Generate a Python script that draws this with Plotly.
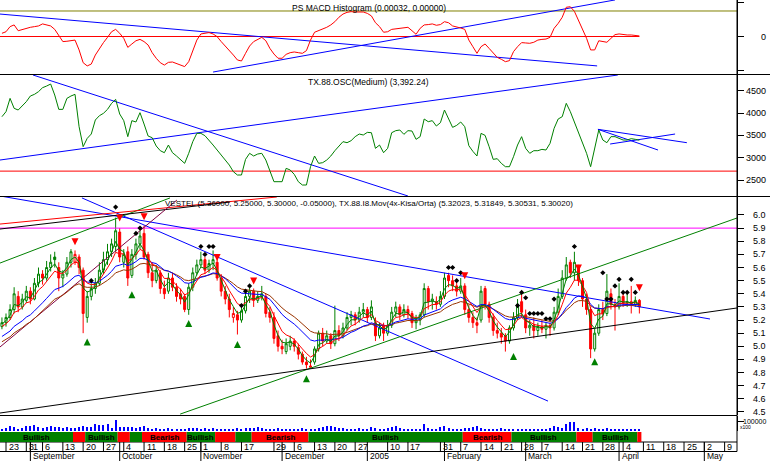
import plotly.graph_objects as go

# ---------------- data ----------------
# daily bars, index 0 = 20 Aug 2004 ... 157 = 8 Apr 2005
opens = [5.15, 5.18, 5.22, 5.28, 5.38, 5.30, 5.35, 5.42, 5.36, 5.48,
         5.55, 5.52, 5.60, 5.68, 5.60, 5.52, 5.55, 5.64, 5.64, 5.68,
         5.58, 5.22, 5.38, 5.44, 5.48, 5.58, 5.66, 5.72, 5.76, 5.87,
         5.64, 5.72, 5.54, 5.70, 5.78, 5.86, 5.70, 5.56, 5.50, 5.56,
         5.44, 5.42, 5.52, 5.45, 5.40, 5.38, 5.28, 5.45, 5.56, 5.62,
         5.66, 5.58, 5.63, 5.64, 5.52, 5.42, 5.36, 5.22, 5.24, 5.20,
         5.27, 5.38, 5.42, 5.35, 5.38, 5.38, 5.26, 5.22, 5.08, 5.00,
         4.96, 5.00, 5.04, 4.99, 4.94, 4.88, 4.84, 4.88, 4.98, 5.10,
         5.04, 5.08, 5.02, 5.12, 5.08, 5.14, 5.22, 5.24, 5.20, 5.26,
         5.28, 5.22, 5.18, 5.08, 5.16, 5.10, 5.16, 5.26, 5.30, 5.24,
         5.28, 5.25, 5.18, 5.20, 5.24, 5.44, 5.34, 5.34, 5.32, 5.38,
         5.54, 5.50, 5.46, 5.42, 5.46, 5.28, 5.22, 5.18, 5.20, 5.44,
         5.32, 5.22, 5.12, 5.10, 5.08, 5.04, 5.14, 5.22, 5.34, 5.24,
         5.14, 5.16, 5.12, 5.15, 5.13, 5.16, 5.14, 5.26, 5.38, 5.52,
         5.64, 5.56, 5.60, 5.50, 5.36, 5.28, 4.98, 5.10, 5.28, 5.25,
         5.40, 5.32, 5.30, 5.38, 5.33, 5.34, 5.32, 5.35]
highs = [5.22, 5.25, 5.32, 5.45, 5.42, 5.40, 5.46, 5.45, 5.52, 5.60,
         5.58, 5.65, 5.70, 5.72, 5.64, 5.58, 5.68, 5.74, 5.73, 5.70,
         5.60, 5.42, 5.48, 5.52, 5.64, 5.72, 5.78, 5.82, 5.98, 5.90,
         5.74, 5.76, 5.74, 5.82, 5.88, 5.92, 5.72, 5.64, 5.62, 5.58,
         5.50, 5.56, 5.56, 5.48, 5.44, 5.40, 5.48, 5.60, 5.66, 5.72,
         5.68, 5.66, 5.73, 5.68, 5.55, 5.46, 5.40, 5.30, 5.27, 5.30,
         5.42, 5.46, 5.44, 5.42, 5.46, 5.40, 5.30, 5.26, 5.12, 5.05,
         5.06, 5.08, 5.06, 5.02, 4.96, 4.92, 4.90, 5.00, 5.12, 5.14,
         5.12, 5.10, 5.31, 5.16, 5.18, 5.26, 5.27, 5.26, 5.30, 5.33,
         5.30, 5.35, 5.22, 5.18, 5.18, 5.20, 5.30, 5.34, 5.32, 5.32,
         5.31, 5.27, 5.24, 5.26, 5.48, 5.46, 5.40, 5.38, 5.42, 5.56,
         5.56, 5.54, 5.50, 5.52, 5.48, 5.32, 5.26, 5.22, 5.46, 5.46,
         5.34, 5.25, 5.18, 5.14, 5.10, 5.16, 5.26, 5.36, 5.40, 5.28,
         5.20, 5.22, 5.18, 5.20, 5.18, 5.18, 5.30, 5.44, 5.58, 5.68,
         5.66, 5.72, 5.62, 5.52, 5.40, 5.30, 5.14, 5.32, 5.34, 5.55,
         5.44, 5.36, 5.48, 5.40, 5.40, 5.46, 5.38, 5.36]
lows = [5.13, 5.15, 5.20, 5.25, 5.26, 5.28, 5.33, 5.32, 5.35, 5.45,
        5.47, 5.50, 5.57, 5.60, 5.42, 5.45, 5.53, 5.60, 5.62, 5.55,
        5.10, 5.18, 5.35, 5.40, 5.46, 5.55, 5.62, 5.68, 5.72, 5.64,
        5.60, 5.46, 5.52, 5.66, 5.74, 5.66, 5.52, 5.45, 5.48, 5.40,
        5.36, 5.40, 5.42, 5.34, 5.32, 5.26, 5.24, 5.42, 5.54, 5.60,
        5.55, 5.56, 5.58, 5.50, 5.38, 5.32, 5.22, 5.18, 5.09, 5.18,
        5.25, 5.33, 5.30, 5.33, 5.35, 5.22, 5.18, 5.02, 4.96, 4.94,
        4.94, 4.97, 4.96, 4.90, 4.86, 4.83, 4.84, 4.86, 4.96, 5.00,
        5.02, 4.98, 5.00, 5.04, 5.06, 5.12, 5.16, 5.16, 5.18, 5.22,
        5.18, 5.20, 5.04, 5.06, 5.04, 5.08, 5.14, 5.22, 5.20, 5.22,
        5.21, 5.14, 5.13, 5.16, 5.22, 5.28, 5.28, 5.28, 5.30, 5.36,
        5.45, 5.42, 5.38, 5.40, 5.24, 5.18, 5.14, 5.10, 5.18, 5.28,
        5.18, 5.08, 5.06, 5.02, 4.96, 5.02, 5.12, 5.20, 5.22, 5.10,
        5.08, 5.06, 5.08, 5.10, 5.06, 5.08, 5.12, 5.24, 5.36, 5.50,
        5.52, 5.50, 5.46, 5.30, 5.24, 4.91, 4.96, 5.08, 5.20, 5.23,
        5.28, 5.12, 5.28, 5.30, 5.30, 5.25, 5.30, 5.25]
closes = [5.18, 5.22, 5.28, 5.40, 5.30, 5.36, 5.42, 5.36, 5.48, 5.55,
          5.52, 5.60, 5.64, 5.66, 5.52, 5.55, 5.64, 5.72, 5.70, 5.60,
          5.25, 5.38, 5.44, 5.48, 5.58, 5.66, 5.72, 5.78, 5.88, 5.68,
          5.70, 5.52, 5.70, 5.78, 5.84, 5.68, 5.56, 5.50, 5.58, 5.44,
          5.40, 5.52, 5.45, 5.38, 5.36, 5.28, 5.45, 5.56, 5.62, 5.66,
          5.58, 5.63, 5.66, 5.52, 5.42, 5.36, 5.28, 5.25, 5.20, 5.27,
          5.38, 5.42, 5.35, 5.38, 5.40, 5.25, 5.22, 5.06, 5.00, 4.98,
          5.02, 5.04, 5.00, 4.94, 4.88, 4.86, 4.85, 4.98, 5.10, 5.04,
          5.08, 5.02, 5.12, 5.08, 5.14, 5.22, 5.24, 5.20, 5.26, 5.28,
          5.22, 5.30, 5.08, 5.14, 5.10, 5.16, 5.26, 5.30, 5.24, 5.28,
          5.25, 5.18, 5.20, 5.24, 5.44, 5.34, 5.36, 5.32, 5.38, 5.52,
          5.50, 5.46, 5.42, 5.46, 5.28, 5.22, 5.18, 5.16, 5.42, 5.32,
          5.22, 5.12, 5.10, 5.07, 5.04, 5.14, 5.22, 5.32, 5.26, 5.14,
          5.16, 5.12, 5.15, 5.13, 5.16, 5.14, 5.26, 5.38, 5.52, 5.62,
          5.56, 5.64, 5.50, 5.36, 5.28, 4.98, 5.10, 5.28, 5.25, 5.42,
          5.32, 5.30, 5.38, 5.33, 5.34, 5.32, 5.35, 5.30]
volumes = [20000, 30000, 50000, 40000, 20000, 30000, 50000, 50000, 60000, 40000,
           30000, 40000, 50000, 40000, 40000, 30000, 40000, 30000, 30000, 40000,
           50000, 40000, 40000, 70000, 60000, 60000, 70000, 30000, 110000, 40000,
           40000, 40000, 40000, 30000, 40000, 50000, 30000, 20000, 30000, 20000,
           20000, 30000, 20000, 20000, 20000, 20000, 30000, 30000, 30000, 20000,
           30000, 20000, 30000, 20000, 20000, 20000, 20000, 20000, 30000, 20000,
           30000, 30000, 30000, 40000, 30000, 20000, 20000, 20000, 30000, 20000,
           20000, 20000, 20000, 20000, 30000, 20000, 20000, 20000, 30000, 40000,
           50000, 50000, 40000, 30000, 30000, 20000, 20000, 20000, 30000, 20000,
           20000, 40000, 30000, 20000, 20000, 30000, 40000, 50000, 30000, 20000,
           20000, 20000, 20000, 20000, 70000, 30000, 20000, 20000, 40000, 50000,
           30000, 20000, 20000, 20000, 30000, 30000, 40000, 50000, 30000, 20000,
           20000, 20000, 20000, 30000, 20000, 20000, 20000, 20000, 20000, 20000,
           20000, 20000, 20000, 20000, 20000, 30000, 50000, 40000, 30000, 70000,
           90000, 90000, 30000, 20000, 30000, 20000, 30000, 20000, 20000, 30000,
           20000, 20000, 20000, 20000, 20000, 20000, 20000, 20000]
# PS MACD histogram, in units of 1e-4
macd_hist_e4 = [19, 28, 58, 68, 34, 42, 48, 54, 58, 62,
                74, 70, 62, 42, 9, -30, -28, -23, -21, -79,
                -154, -173, -162, -109, -70, -36, -5, 28, 42, 19,
                -11, -64, -44, -25, -17, -30, -50, -95, -128, -154,
                -168, -152, -150, -158, -168, -177, -148, -89, -21, 15,
                19, 23, 15, -1, -30, -56, -79, -109, -138, -144,
                -99, -56, -30, -17, -5, -25, -70, -103, -128, -128,
                -105, -95, -91, -95, -99, -83, -21, 25, 34, 42,
                54, 68, 87, 113, 132, 142, 146, 144, 146, 144,
                136, 121, 81, 58, 25, 28, 42, 46, 48, 50,
                54, 34, 13, 48, 68, 70, 74, 66, 70, 87,
                81, 62, 58, 50, 42, -21, -60, -99, -60, -44,
                -70, -99, -123, -134, -148, -142, -89, -60, -36, -38,
                -40, -34, -21, -17, -15, -5, 48, 77, 113, 172,
                175, 148, 93, 42, -11, -79, -79, -25, -28, -34,
                -11, 11, 15, 11, 9, 9, 7, 3.2]
# TX.88.OSC(Medium)
osc = [3918, 4030, 4328, 4105, 4067, 4157, 4254, 4381, 4418, 4478,
       4567, 4604, 4649, 4403, 4082, 4082, 4328, 4381, 4418, 3694,
       3247, 3433, 3530, 3844, 3940, 3993, 4082, 4217, 4306, 3978,
       3829, 3471, 3829, 3799, 4008, 3754, 3485, 3448, 3262, 3157,
       3112, 3284, 3112, 3038, 2948, 2874, 3098, 3359, 3545, 3545,
       3493, 3396, 3284, 3172, 3068, 2948, 2836, 2687, 2613, 2613,
       2963, 3098, 3038, 3083, 3098, 2948, 2725, 2463, 2463, 2463,
       2762, 2725, 2628, 2463, 2389, 2389, 2799, 3038, 2874, 2889,
       2948, 3038, 3157, 3262, 3359, 3336, 3381, 3471, 3530, 3508,
       3567, 3560, 3209, 3284, 3112, 3209, 3560, 3605, 3620, 3523,
       3605, 3597, 3411, 3471, 3866, 3806, 3829, 3709, 3784, 4067,
       3881, 3679, 3724, 3799, 3694, 3269, 3142, 3038, 3545, 3500,
       3247, 2963, 2978, 2874, 2799, 2799, 3023, 3284, 3471, 3209,
       3098, 3157, 3157, 3187, 3172, 3321, 3657, 3866, 3918, 4217,
       4030, 3806, 3582, 3359, 3098, 2799, 3247, 3620, 3396, 3336,
       3471, 3471, 3433, 3396, 3396, 3426, 3411, 3392.24]

# moving-average overlay TX.88.I8.Mov(4x) : periods and starting levels
ma_periods = [3, 6, 15, 21]
ma_start = [5.16, 5.14, 5.06, 5.02]

# signals
dot_idx = [22, 28, 33, 34, 49, 50, 51, 52, 59, 60, 61, 110, 111, 112, 113, 127, 128, 129,
           130, 131, 132, 133, 134, 135, 136, 141, 148, 149, 150, 151, 152, 153, 154, 155, 156]
dot_lvl = [5.50, 6.06, 5.86, 5.90, 5.76, 5.70, 5.76, 5.76, 5.31, 5.42, 5.46, 5.60, 5.60, 5.50, 5.56, 5.31, 5.41, 5.37,
           5.25, 5.25, 5.25, 5.25, 5.21, 5.21, 5.36, 5.76, 5.56, 5.36, 5.36, 5.46, 5.51, 5.41, 5.41, 5.51, 5.41]
sell_idx = [18, 29, 35, 53, 62, 114, 142, 157]
sell_lvl = [5.77, 5.95, 5.96, 5.65, 5.47, 5.51, 5.57, 5.42]
buy_idx = [21, 32, 46, 58, 75, 126, 146]
buy_lvl = [5.06, 5.42, 5.20, 5.04, 4.78, 4.95, 4.91]

# hand-drawn trend lines: (x0, y0, x1, y1) in bar index / value units
macd_trend = [(-0.48, 0.0132, 146.6, -0.0173), (52.0, -0.0209, 151.0, 0.0215)]
macd_levels = [0.015, 0.0]
osc_trend = [(7.65, 4851, 100.0, 2143), (-0.48, 2948, 151.7, 4851),
             (146.8, 3635, 168.7, 3336), (146.8, 3635, 161.6, 3172), (149.8, 3306, 165.8, 3530)]
osc_level = 2700
price_trend = [(-0.48, 6.145, 174.4, 5.208), (19.7, 6.13, 134.5, 4.583),
               (-0.48, 5.634, 41.4, 6.13), (-0.48, 5.931, 67.7, 6.137),
               (-0.48, 5.893, 56.2, 6.099), (-0.48, 4.995, 43.1, 6.114),
               (43.9, 4.484, 181.05, 5.977), (-0.48, 4.492, 181.05, 5.292)]
price_trend_colors = ['#0000FF', '#0000FF', '#008000', '#FF0000', '#000000', '#800040', '#008000', '#000000']
price_level = 5.9

# trend band
band_edges = [-0.5, 17.5, 20.5, 28.5, 31.5, 34.5, 45.5, 52.5, 57.5, 61.5, 75.5, 113.5, 125.5,
              141.5, 145.5, 156.5, 157.5]
band_states = ['Bullish', 'Bearish', 'Bullish', 'Bearish', 'Bullish', 'Bearish', 'Bullish', 'Bearish',
               'Bullish', 'Bearish', 'Bullish', 'Bearish', 'Bullish', 'Bearish', 'Bullish', 'Bearish']

# time axis
day_tick_idx = [1, 6, 7, 10, 15, 20, 25, 30, 35, 40, 45, 49, 54, 59, 67, 72, 77, 82, 87, 95, 100,
                108, 113, 118, 123, 128, 133, 138, 143, 148, 153, 158, 163, 168, 173, 178]
day_tick_lbl = ['23', '3', '1', '6', '13', '20', '27', '4', '11', '18', '25', '1', '8', '17', '29', '6',
                '13', '20', '27', '10', '17', '31', '7', '14', '21', '28', '7', '14', '21', '28', '4',
                '11', '18', '25', '2', '9']
month_idx = [7, 29, 49, 69, 90, 109, 129, 152, 173]
month_lbl = ['September', 'October', 'November', 'December', '2005', 'February', 'March', 'April', 'May']

# right-axis tick values and labels
macd_ticks = [-0.02, 0, 0.02]
macd_tick_lbl = ['', '0', '']
osc_ticks = [2500, 3000, 3500, 4000, 4500]
osc_tick_lbl = ['2500', '3000', '3500', '4000', '4500']
price_ticks = [4.5, 4.6, 4.7, 4.8, 4.9, 5.0, 5.1, 5.2, 5.3, 5.4, 5.5, 5.6, 5.7, 5.8, 5.9, 6.0]
price_tick_lbl = ['4.5', '4.6', '4.7', '4.8', '4.9', '5.0', '5.1', '5.2', '5.3', '5.4', '5.5',
                  '5.6', '5.7', '5.8', '5.9', '6.0']
vol_ticks = [100000]
vol_tick_lbl = ['100000']

# ---------------- figure ----------------
FONT = 'Liberation Sans, Arial, sans-serif'
H = 461.0
PW = 737.0
X_MAX = 181.05


def P(py):
    return 1 - py / H


n = len(closes)
xs = list(range(n))
GREEN, RED, BLUE, BROWN = '#008000', '#FF0000', '#0000FF', '#993300'

fig = go.Figure()

# ---- MACD panel
for lv, col in zip(macd_levels, ['#808000', RED]):
    x1 = X_MAX if lv != 0 else n - 1
    fig.add_trace(go.Scatter(x=[-0.48, x1], y=[lv, lv], mode='lines', line=dict(color=col, width=1),
                             yaxis='y', hoverinfo='skip'))
for (x0, y0, x1, y1) in macd_trend:
    fig.add_trace(go.Scatter(x=[x0, x1], y=[y0, y1], mode='lines', line=dict(color=BLUE, width=1),
                             yaxis='y', hoverinfo='skip'))
fig.add_trace(go.Scatter(x=xs, y=[v * 1e-4 for v in macd_hist_e4], mode='lines',
                         line=dict(color=RED, width=1), yaxis='y', hoverinfo='skip'))

# ---- OSC panel
fig.add_trace(go.Scatter(x=[-0.48, X_MAX], y=[osc_level, osc_level], mode='lines',
                         line=dict(color=RED, width=1), yaxis='y2', hoverinfo='skip'))
for (x0, y0, x1, y1) in osc_trend:
    fig.add_trace(go.Scatter(x=[x0, x1], y=[y0, y1], mode='lines', line=dict(color=BLUE, width=1),
                             yaxis='y2', hoverinfo='skip'))
fig.add_trace(go.Scatter(x=xs, y=osc, mode='lines', line=dict(color=GREEN, width=1),
                         yaxis='y2', hoverinfo='skip'))

# ---- price panel
fig.add_trace(go.Scatter(x=[-0.48, X_MAX], y=[price_level, price_level], mode='lines',
                         line=dict(color='#FF00FF', width=1), yaxis='y3', hoverinfo='skip'))
for (x0, y0, x1, y1), col in zip(price_trend, price_trend_colors):
    fig.add_trace(go.Scatter(x=[x0, x1], y=[y0, y1], mode='lines', line=dict(color=col, width=1),
                             yaxis='y3', hoverinfo='skip'))


def ema(vals, period, start):
    a = 2.0 / (period + 1)
    m = start
    out = []
    for v in vals:
        m = m + a * (v - m)
        out.append(m)
    return out


ma_cols = [GREEN, RED, BLUE, BROWN]
for per, st, col in reversed(list(zip(ma_periods, ma_start, ma_cols))):
    fig.add_trace(go.Scatter(x=xs, y=ema(closes, per, st), mode='lines', line=dict(color=col, width=1),
                             yaxis='y3', hoverinfo='skip'))

up_day = [True] + [closes[i] >= closes[i - 1] for i in range(1, n)]
for flag, col in [(True, GREEN), (False, RED)]:
    idx = [i for i in xs if up_day[i] == flag]
    fig.add_trace(go.Candlestick(
        x=idx, open=[opens[i] for i in idx], high=[highs[i] for i in idx],
        low=[lows[i] for i in idx], close=[closes[i] for i in idx],
        increasing=dict(line=dict(color=col, width=1), fillcolor='white'),
        decreasing=dict(line=dict(color=col, width=1), fillcolor=col),
        whiskerwidth=0, yaxis='y3', hoverinfo='skip', showlegend=False))

fig.add_trace(go.Scatter(x=dot_idx, y=dot_lvl, mode='markers',
                         marker=dict(symbol='diamond', size=4, color='black'), yaxis='y3', hoverinfo='skip'))
fig.add_trace(go.Scatter(x=sell_idx, y=sell_lvl, mode='markers',
                         marker=dict(symbol='arrow-down', size=7, color=RED, line=dict(width=0)),
                         yaxis='y3', hoverinfo='skip'))
fig.add_trace(go.Scatter(x=buy_idx, y=buy_lvl, mode='markers',
                         marker=dict(symbol='arrow-up', size=7, color=GREEN, line=dict(width=0)),
                         yaxis='y3', hoverinfo='skip'))

# ---- volume panel
fig.add_trace(go.Bar(x=xs, y=volumes, width=0.25, marker=dict(color=BLUE, line=dict(width=0)),
                     yaxis='y4', hoverinfo='skip'))

# ---------------- layout ----------------
axis_common = dict(side='right', anchor='x', showgrid=False, zeroline=False, showline=True,
                   linecolor='black', linewidth=1, ticks='outside', ticklen=6, tickcolor='black',
                   showticklabels=False, fixedrange=True)

shapes = []
XR = 770 / PW
for py, xr in [(74.5, XR), (196.5, XR), (415.5, 1), (442, 1), (451.5, 1)]:
    shapes.append(dict(type='line', xref='paper', yref='paper', x0=0, x1=xr, y0=P(py), y1=P(py),
                       line=dict(color='black', width=1)))
shapes.append(dict(type='line', xref='paper', yref='paper', x0=1, x1=1, y0=P(0), y1=P(451.5),
                   line=dict(color='black', width=1)))
for i, st in enumerate(band_states):
    shapes.append(dict(type='rect', xref='x', yref='paper', x0=band_edges[i], x1=band_edges[i + 1],
                       y0=P(442), y1=P(432), fillcolor=GREEN if st == 'Bullish' else RED,
                       line=dict(width=0), layer='above'))
for t in day_tick_idx:
    shapes.append(dict(type='line', xref='x', yref='paper', x0=t, x1=t, y0=P(442), y1=P(451.5),
                       line=dict(color='black', width=1)))
for t in month_idx:
    shapes.append(dict(type='line', xref='x', yref='paper', x0=t, x1=t, y0=P(442), y1=P(461),
                       line=dict(color='black', width=1)))

ann = []
tf = dict(family=FONT, size=9, color='black')
title_f = dict(family=FONT, size=8.5, color='black')
ann.append(dict(text='PS MACD Histogram (0.00032, 0.00000)', xref='paper', yref='paper', x=0.5, y=P(1),
                xanchor='center', yanchor='top', showarrow=False, font=title_f))
ann.append(dict(text='TX.88.OSC(Medium) (3,392.24)', xref='paper', yref='paper', x=0.5, y=P(75),
                xanchor='center', yanchor='top', showarrow=False, font=title_f))
ann.append(dict(text='VESTEL (5.36000, 5.25000, 5.30000, -0.05000), TX.88.I8.Mov(4x-Kisa/Orta) '
                     '(5.32023, 5.31849, 5.30531, 5.30020)',
                xref='paper', yref='paper', x=0.5, y=P(197), xanchor='center', yanchor='top',
                showarrow=False, font=dict(family=FONT, size=8, color='black')))
for i, st in enumerate(band_states):
    if band_edges[i + 1] - band_edges[i] >= 7:
        ann.append(dict(text='<b>' + st + '</b>', xref='x', yref='paper',
                        x=(band_edges[i] + band_edges[i + 1]) / 2,
                        y=P(437), xanchor='center', yanchor='middle', showarrow=False,
                        font=dict(family=FONT, size=8, color='#000000')))
for t, lb in zip(day_tick_idx, day_tick_lbl):
    ann.append(dict(text=lb, xref='x', yref='paper', x=t, y=P(447), xanchor='left', yanchor='middle',
                    xshift=0.5, showarrow=False, font=tf))
for t, lb in zip(month_idx, month_lbl):
    ann.append(dict(text=lb, xref='x', yref='paper', x=t, y=P(456.3), xanchor='left', yanchor='middle',
                    xshift=0.5, showarrow=False, font=dict(family=FONT, size=8.5, color='black')))
# right-axis labels, right-aligned like the reference
for yref, vals, lbls, size in [('y', macd_ticks, macd_tick_lbl, 9), ('y2', osc_ticks, osc_tick_lbl, 9),
                               ('y3', price_ticks, price_tick_lbl, 9), ('y4', vol_ticks, vol_tick_lbl, 7)]:
    for v, lb in zip(vals, lbls):
        if lb:
            ann.append(dict(text=lb, xref='paper', yref=yref, x=768 / PW, y=v, xanchor='right',
                            yanchor='middle', showarrow=False, font=dict(family=FONT, size=size, color='black')))
ann.append(dict(text='x100', xref='paper', yref='paper', x=738 / PW, y=P(427), xanchor='left',
                yanchor='middle', showarrow=False, font=dict(family=FONT, size=5, color='black')))

fig.update_layout(
    width=770, height=461, margin=dict(l=0, r=33, t=0, b=0),
    paper_bgcolor='white', plot_bgcolor='white', showlegend=False, hovermode=False,
    xaxis=dict(domain=[0, 1], range=[-0.48, X_MAX], visible=False, fixedrange=True,
               rangeslider=dict(visible=False)),
    yaxis=dict(domain=[P(74), P(0)], range=[-0.02205, 0.02146], tickvals=macd_ticks, **axis_common),
    yaxis2=dict(domain=[P(196), P(75)], range=[2143, 4851], tickvals=osc_ticks, **axis_common),
    yaxis3=dict(domain=[P(415), P(197)], range=[4.477, 6.137], tickvals=price_ticks, **axis_common),
    yaxis4=dict(domain=[P(431), P(416)], range=[0, 150000], tickvals=vol_ticks, **axis_common),
    shapes=shapes, annotations=ann, bargap=0,
)

fig.write_html('out.html', config={'displayModeBar': False},
               post_script="document.body.style.margin='0';document.body.style.overflow='hidden';")
